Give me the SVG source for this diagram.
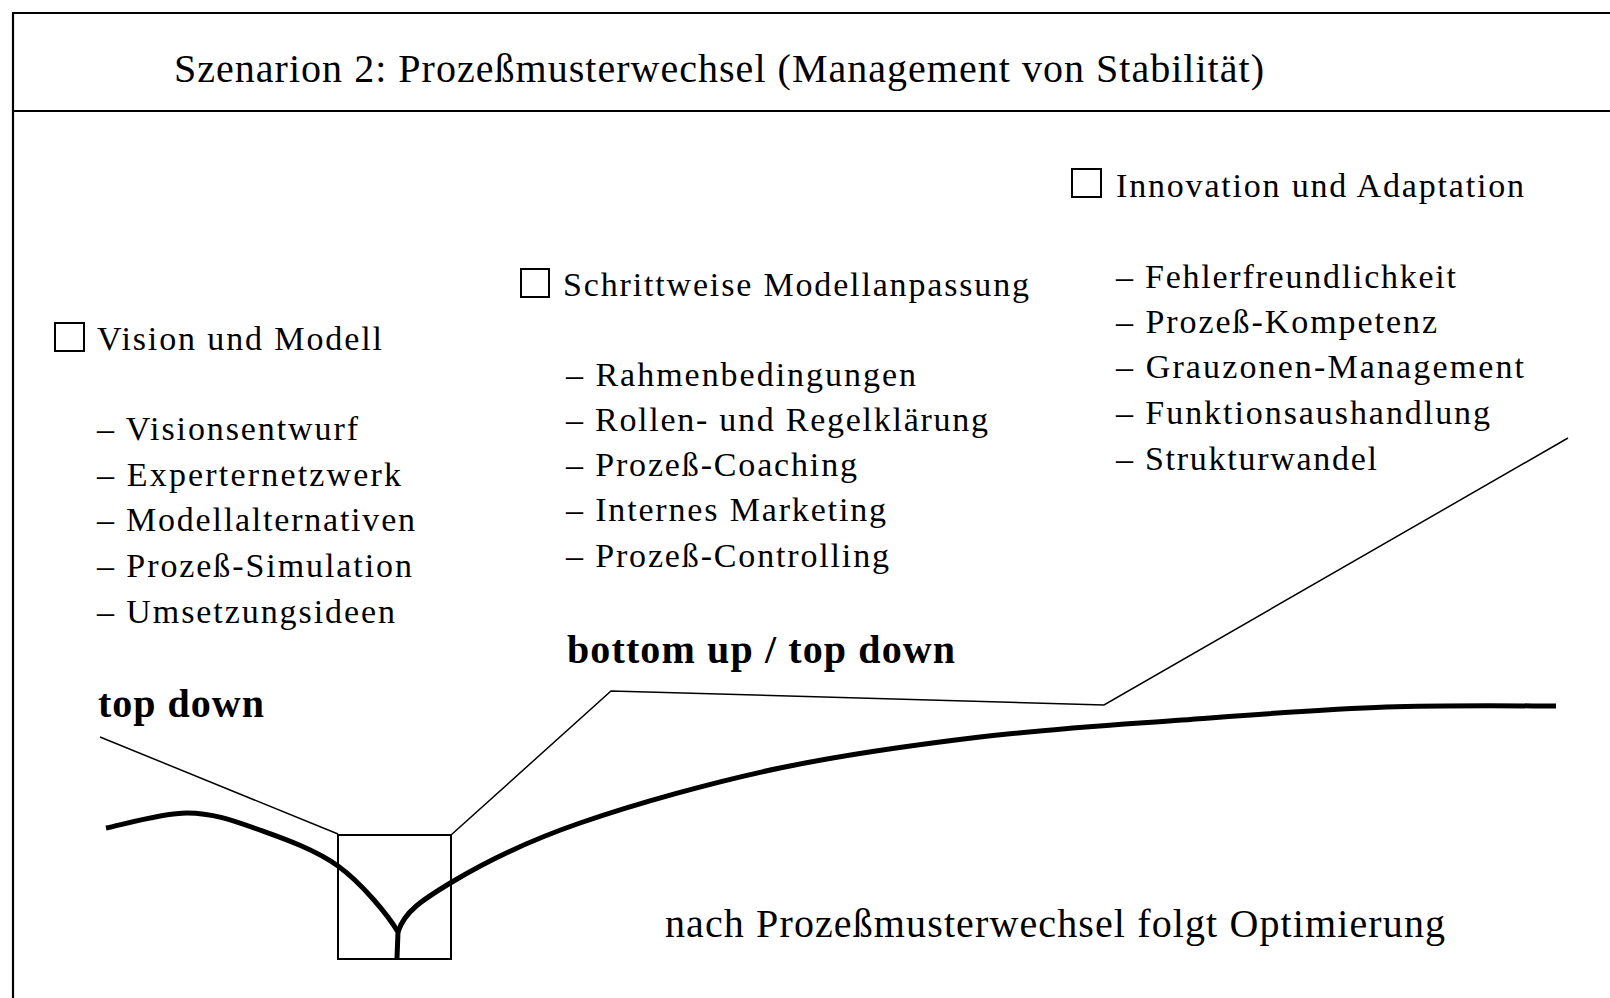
<svg xmlns="http://www.w3.org/2000/svg" width="1610" height="998" viewBox="0 0 1610 998">
<style>
.frame{stroke:#000;stroke-width:2.2;fill:none}
.t{font-family:"Liberation Serif","Times New Roman",serif;fill:#000}
.h{font-size:34px}
.li{font-size:34px}
.b{font-size:40px;font-weight:bold}
.cb{fill:#fff;stroke:#000;stroke-width:2}
.thin{fill:none;stroke:#000;stroke-width:1.5}
.thick{fill:none;stroke:#000;stroke-width:5;stroke-linejoin:round}
</style>
<rect width="1610" height="998" fill="#fff"/>
<g id="frame">
<line class="frame" x1="13" y1="13" x2="1610" y2="13"/>
<line class="frame" x1="13" y1="111" x2="1610" y2="111"/>
<line class="frame" x1="13" y1="12" x2="13" y2="998"/>
</g>
<g id="title">
<text class="t" x="174" y="82" font-size="40" textLength="1090" lengthAdjust="spacing">Szenarion 2: Prozeßmusterwechsel (Management von Stabilität)</text>
</g>
<g id="vision">
<rect class="cb" x="55" y="323" width="29" height="28"/>
<text class="t h" x="97" y="350" textLength="285" lengthAdjust="spacing">Vision und Modell</text>
<text class="t li" x="97" y="440" textLength="261" lengthAdjust="spacing">– Visionsentwurf</text>
<text class="t li" x="97" y="486" textLength="304" lengthAdjust="spacing">– Experternetzwerk</text>
<text class="t li" x="97" y="531" textLength="318" lengthAdjust="spacing">– Modellalternativen</text>
<text class="t li" x="97" y="577" textLength="315" lengthAdjust="spacing">– Prozeß-Simulation</text>
<text class="t li" x="97" y="623" textLength="298" lengthAdjust="spacing">– Umsetzungsideen</text>
</g>
<g id="schritt">
<rect class="cb" x="521" y="269" width="28" height="28"/>
<text class="t h" x="563" y="296" textLength="466" lengthAdjust="spacing">Schrittweise Modellanpassung</text>
<text class="t li" x="566" y="386" textLength="350" lengthAdjust="spacing">– Rahmenbedingungen</text>
<text class="t li" x="566" y="431" textLength="422" lengthAdjust="spacing">– Rollen- und Regelklärung</text>
<text class="t li" x="566" y="476" textLength="291" lengthAdjust="spacing">– Prozeß-Coaching</text>
<text class="t li" x="566" y="521" textLength="320" lengthAdjust="spacing">– Internes Marketing</text>
<text class="t li" x="566" y="567" textLength="323" lengthAdjust="spacing">– Prozeß-Controlling</text>
</g>
<g id="innovation">
<rect class="cb" x="1072" y="169" width="29" height="28"/>
<text class="t h" x="1116" y="197" textLength="408" lengthAdjust="spacing">Innovation und Adaptation</text>
<text class="t li" x="1116" y="288" textLength="340" lengthAdjust="spacing">– Fehlerfreundlichkeit</text>
<text class="t li" x="1116" y="333" textLength="321" lengthAdjust="spacing">– Prozeß-Kompetenz</text>
<text class="t li" x="1116" y="378" textLength="408" lengthAdjust="spacing">– Grauzonen-Management</text>
<text class="t li" x="1116" y="424" textLength="374" lengthAdjust="spacing">– Funktionsaushandlung</text>
<text class="t li" x="1116" y="470" textLength="261" lengthAdjust="spacing">– Strukturwandel</text>
</g>
<g id="label-topdown">
<text class="t b" x="98" y="717" textLength="166" lengthAdjust="spacing">top down</text>
</g>
<g id="label-bottomup">
<text class="t b" x="567" y="663" textLength="388" lengthAdjust="spacing">bottom up / top down</text>
</g>
<g id="label-optimierung">
<text class="t" x="665" y="937" font-size="40" textLength="780" lengthAdjust="spacing">nach Prozeßmusterwechsel folgt Optimierung</text>
</g>
<g id="focus-box">
<rect x="338" y="835" width="113" height="124" fill="none" stroke="#000" stroke-width="2"/>
</g>
<g id="connectors">
<polyline class="thin" points="100,737 338,834"/>
<polyline class="thin" points="451,835 611,691 1104,705 1568,438"/>
<path class="thick" d="M106,828 C119.5,825.5 162,813 187,813 C212,813 232,820 257,829 C282,838 314.5,849 338,866 C361.5,883 388,915 398,932 L397,958"/>
<path class="thick" d="M398,932 C404,912 422,900 452,882 C482,864 525,842 580,823 C635,804 713,782 780,768 C847,754 913,745 980,737 C1047,729 1114,725 1182,720 C1250,715 1324,709 1386,707 C1448,705 1528,706 1556,706"/>
</g>
</svg>
